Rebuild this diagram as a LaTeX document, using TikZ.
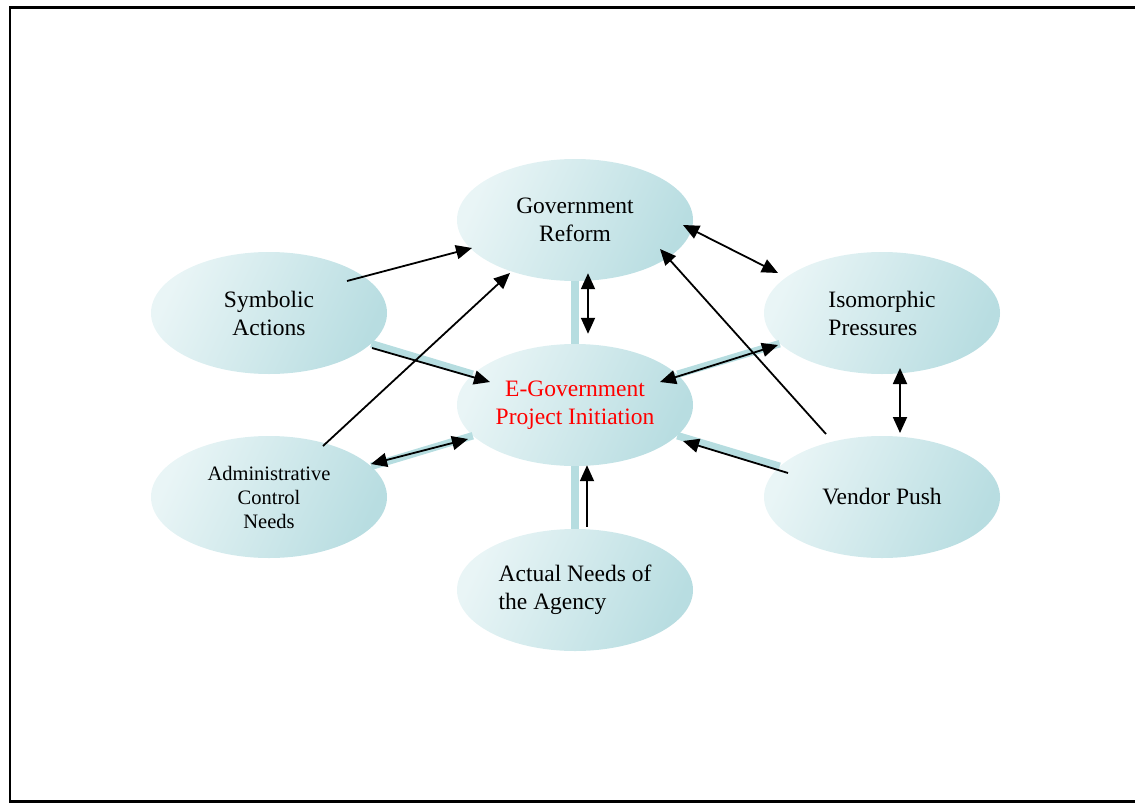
\documentclass[tikz,border=0pt]{standalone}
\usepackage{fontspec}
\setmainfont{Liberation Serif}
\usetikzlibrary{shapes.geometric,arrows.meta,calc}
\definecolor{ellLight}{RGB}{233,245,246}
\definecolor{ellDark}{RGB}{184,221,225}
\definecolor{barTeal}{RGB}{182,221,224}
\begin{document}
\begin{tikzpicture}[x=1pt,y=-1pt,
  bubble/.style={ellipse, minimum width=236pt, minimum height=122pt, inner sep=0pt,
    top color=ellLight, bottom color=ellDark, shading angle=65,
    font=\fontsize{23.5}{28}\selectfont, align=center},
  band/.style={barTeal, line width=7.5pt},
  tip/.tip={Triangle[length=16pt,width=14pt]},
  link/.style={line width=1.8pt, -tip},
  dlink/.style={line width=1.8pt, tip-tip},
]
\useasboundingbox (0,0) rectangle (1135,803);
% outer frame
\draw[line width=2.5pt] (10,7.5) rectangle (1142,801.5);

% concept bubbles
\node[bubble] (gov) at (575,220) {Government\\Reform};
\node[bubble] (sym) at (269,313) {Symbolic\\Actions};
\node[bubble, align=left] (iso) at (882,313) {Isomorphic\\Pressures};
\node[bubble, text=red] (egov) at (575,405) {E-Government\\Project Initiation};
\node[bubble, font=\fontsize{20.5}{24}\selectfont] (adm) at (269,497) {Administrative\\Control\\Needs};
\node[bubble] (ven) at (882,497) {Vendor Push};
\node[bubble, align=left] (act) at (575,590) {Actual Needs of\\the Agency};

% shaded bands linking the hub
\draw[band] (gov) -- (egov);
\draw[band] (act) -- (egov);
\draw[band] (sym) -- (egov);
\draw[band] (adm) -- (egov);
\draw[band] (iso) -- (egov);
\draw[band] (ven) -- (egov);

% arrows
\draw[link] ($(sym.center)+(78,-32)$) -- ($(gov.center)+(-103,28)$);
\draw[link] ($(adm.center)+(54,-51)$) -- ($(gov.center)+(-65,53)$);
\draw[link] ($(ven.center)+(-56,-63)$) -- ($(gov.center)+(85,29)$);
\draw[dlink] ($(gov.center)+(108,5)$) -- ($(iso.center)+(-104,-40)$);
\draw[dlink] ($(iso.center)+(18,55)$) -- ($(ven.center)+(18,-64)$);
\draw[dlink] ($(gov.south)+(13,-8)$) -- ($(egov.north)+(13,-10)$);
\draw[link] ($(act.north)+(12,-2)$) -- ($(egov.south)+(12,-1)$);
\draw[link] ($(sym.center)+(103,35)$) -- ($(egov.center)+(-85,-23)$);
\draw[dlink] ($(adm.center)+(102,-33)$) -- ($(egov.center)+(-107,34)$);
\draw[dlink] ($(egov.center)+(85,-23)$) -- ($(iso.center)+(-104,32)$);
\draw[link] ($(ven.center)+(-94,-24)$) -- ($(egov.center)+(108,36)$);
\end{tikzpicture}
\end{document}
